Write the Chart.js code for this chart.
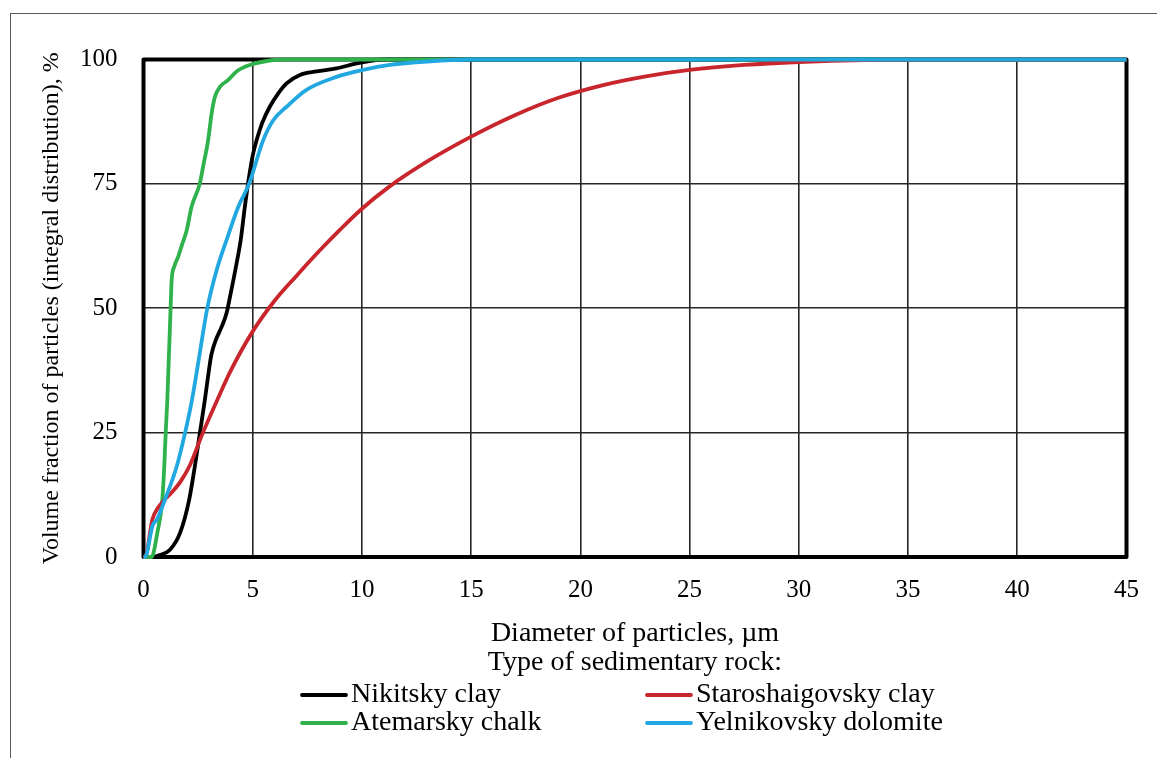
<!DOCTYPE html>
<html>
<head>
<meta charset="utf-8">
<script src="https://cdn.jsdelivr.net/npm/chart.js@4/dist/chart.umd.min.js"></script>
<style>
  html, body { margin: 0; padding: 0; background: #fff; overflow: hidden; }
  #wrap { position: relative; width: 1157px; height: 758px; overflow: hidden; }
  #frame { position: absolute; left: 10px; top: 13px; width: 1300px; height: 900px; border: 1.5px solid #5a5a5a; box-sizing: border-box; }
  #cv { position: absolute; left: 0; top: 0; }
</style>
</head>
<body>
<div id="wrap">
  <div id="frame"></div>
  <canvas id="cv" width="1157" height="758"></canvas>
</div>
<script>
// ---- Data ----
const seriesNames = ["Nikitsky clay", "Staroshaigovsky clay", "Atemarsky chalk", "Yelnikovsky dolomite"];
const seriesColors = ["#000000", "#c8262c", "#2fb24c", "#22a8e0"];

const nikitskyX = [0, 0.35, 0.75, 1.2, 1.67, 2.09, 2.35, 2.58, 2.81, 3.04, 3.12, 3.31, 3.58, 3.8, 3.96, 4.26, 4.45, 4.64, 4.79, 4.99, 5.18, 5.43, 5.78, 6.17, 6.55, 7.16, 7.92, 8.83, 9.75, 11, 45];
const nikitskyY = [0, 0, 0.4, 1.4, 4.8, 11.5, 18.2, 24.9, 31.6, 38.9, 40.9, 43.6, 46.3, 49.0, 52.3, 59.0, 63.7, 70.4, 75.2, 80.5, 83.8, 87.2, 90.5, 93.2, 95.2, 96.9, 97.6, 98.2, 99.2, 100, 100];

const staroshaigovskyX = [0, 0.07, 0.41, 0.65, 0.9, 1.3, 1.7, 2.13, 2.72, 3.4, 4.0, 4.95, 6.0, 7.0, 8.0, 9.0, 10, 11.27, 13.1, 15, 17, 19, 21, 23, 25, 27.5, 30, 33, 36, 45];
const staroshaigovskyY = [0, 0, 7.6, 9.8, 11.2, 13.0, 15.2, 18.5, 25.0, 31.8, 37.5, 45.0, 51.5, 56.5, 61.3, 65.8, 70.0, 74.5, 79.8, 84.5, 88.8, 92.3, 94.8, 96.6, 97.9, 98.9, 99.5, 99.9, 100, 100];

const atemarskyX = [0, 0.37, 0.63, 0.86, 0.95, 1.02, 1.09, 1.24, 1.29, 1.41, 1.59, 1.75, 1.98, 2.2, 2.58, 2.73, 2.96, 3.12, 3.27, 3.5, 3.88, 4.26, 4.87, 5.78, 6.6, 45];
const atemarskyY = [0, 0, 4.8, 11.5, 18.2, 25.3, 31.6, 50.0, 55.7, 58.4, 60.4, 62.6, 65.7, 70.4, 75.1, 78.5, 83.8, 89.2, 92.5, 94.5, 95.9, 97.6, 98.9, 99.8, 100, 100];

const yelnikovskyX = [0, 0.07, 0.42, 0.6, 0.98, 1.52, 1.9, 2.22, 2.5, 2.92, 3.35, 3.88, 4.34, 4.84, 5.48, 5.94, 6.55, 7.46, 8.83, 10.05, 11.27, 13, 15, 45];
const yelnikovskyY = [0, 0, 6.4, 7.4, 11.5, 18.2, 24.9, 31.6, 38.9, 50.0, 57.7, 64.7, 70.4, 75.1, 83.8, 87.8, 90.5, 93.9, 96.5, 97.9, 98.9, 99.6, 100, 100];

const xTickValues = [0, 5, 10, 15, 20, 25, 30, 35, 40, 45];
const yTickValues = [0, 25, 50, 75, 100];
const xTitle = "Diameter of particles, \u00b5m";
const yTitle = "Volume fraction of particles (integral distribution), %";
const legendTitle = "Type of sedimentary rock:";

// ---- Build datasets ----
const xs = [nikitskyX, staroshaigovskyX, atemarskyX, yelnikovskyX];
const ys = [nikitskyY, staroshaigovskyY, atemarskyY, yelnikovskyY];
const drawOrder = [3, 1, 2, 0]; // lower = drawn on top
const datasets = seriesNames.map((name, i) => ({
  label: name,
  data: xs[i].map((x, k) => ({ x: x, y: ys[i][k] })),
  borderColor: seriesColors[i],
  backgroundColor: seriesColors[i],
  borderWidth: 3.8,
  pointRadius: 0,
  fill: false,
  cubicInterpolationMode: 'monotone',
  clip: false,
  order: drawOrder[i]
}));

const FONT = "'Liberation Serif', 'Times New Roman', serif";

const frameBorder = {
  id: 'frameBorder',
  beforeDatasetsDraw(chart) {
    const { ctx, chartArea: a } = chart;
    ctx.save();
    ctx.strokeStyle = '#000';
    ctx.lineWidth = 4;
    ctx.lineJoin = 'round';
    ctx.strokeRect(a.left, a.top, a.right - a.left, a.bottom - a.top);
    ctx.restore();
  }
};

const customLegend = {
  id: 'customLegend',
  afterDraw(chart) {
    const ctx = chart.ctx;
    ctx.save();
    ctx.fillStyle = '#000';
    ctx.font = "28px " + FONT;
    ctx.textBaseline = 'middle';
    ctx.textAlign = 'center';
    ctx.fillText(legendTitle, 635, 663);
    const cols = [300, 645];
    const rows = [695, 723];
    chart.data.datasets.forEach((ds, i) => {
      const cx = cols[i % 2];
      const cy = rows[Math.floor(i / 2)];
      ctx.strokeStyle = ds.borderColor;
      ctx.lineWidth = 3.8;
      ctx.lineCap = 'round';
      ctx.beginPath();
      ctx.moveTo(cx + 2, cy);
      ctx.lineTo(cx + 46, cy);
      ctx.stroke();
      ctx.textAlign = 'left';
      ctx.fillText(ds.label, cx + 51, cy);
    });
    ctx.restore();
  }
};

new Chart(document.getElementById('cv'), {
  type: 'line',
  data: { datasets: datasets },
  plugins: [frameBorder, customLegend],
  options: {
    responsive: false,
    animation: false,
    devicePixelRatio: 1,
    layout: { padding: { left: 0, top: 59.5, right: 29.5, bottom: 0 } },
    plugins: { legend: { display: false }, tooltip: { enabled: false } },
    scales: {
      x: {
        type: 'linear',
        min: 0, max: 45,
        afterBuildTicks(scale) { scale.ticks = xTickValues.map(v => ({ value: v })); },
        afterFit(scale) { scale.height = 201; },
        ticks: { color: '#000', font: { family: FONT, size: 25 }, padding: 18, maxRotation: 0 },
        grid: { color: '#262626', lineWidth: 1.6, drawTicks: false },
        border: { display: false },
        title: { display: true, text: xTitle, color: '#000', font: { family: FONT, size: 28 }, padding: { top: 0, bottom: 108 } }
      },
      y: {
        type: 'linear',
        min: 0, max: 100,
        afterBuildTicks(scale) { scale.ticks = yTickValues.map(v => ({ value: v })); },
        afterFit(scale) { scale.width = 143.5; },
        ticks: { color: '#000', font: { family: FONT, size: 25 }, padding: 26 },
        grid: { color: '#262626', lineWidth: 1.6, drawTicks: false },
        border: { display: false },
        title: { display: true, text: yTitle, color: '#000', font: { family: FONT, size: 24 }, padding: { top: 37, bottom: 0 } }
      }
    }
  }
});
</script>
</body>
</html>
